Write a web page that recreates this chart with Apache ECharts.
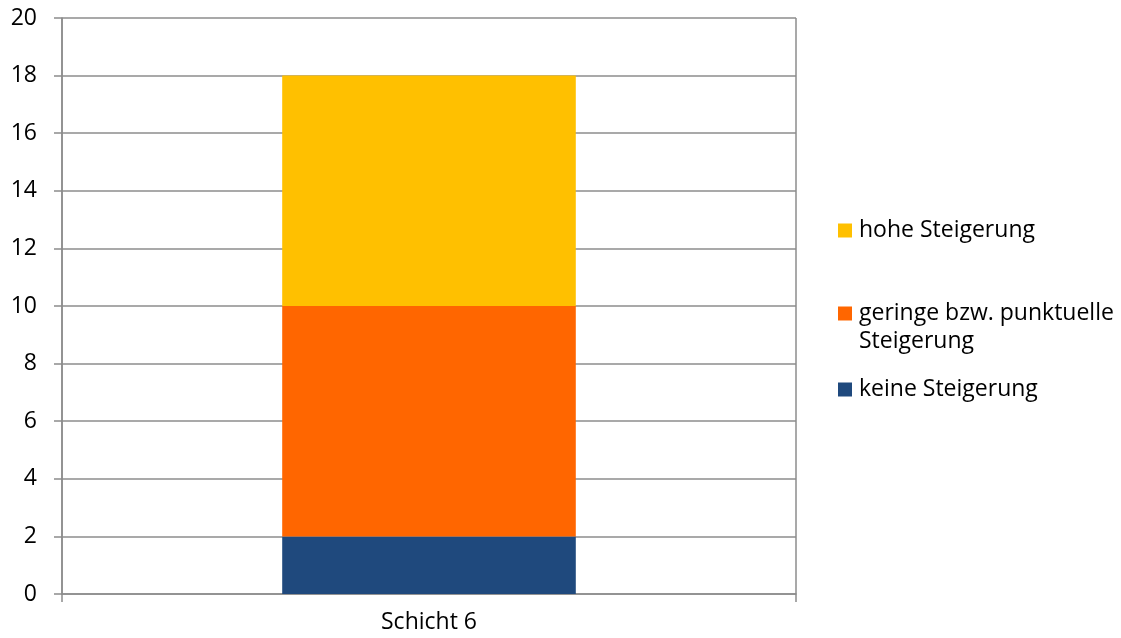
<!DOCTYPE html>
<html>
<head>
<meta charset="utf-8">
<script src="https://cdn.jsdelivr.net/npm/echarts@6/dist/echarts.min.js"></script>
<style>
  html, body { margin: 0; padding: 0; background: #ffffff; }
  #chart { width: 1121px; height: 638px; }
</style>
</head>
<body>
<div id="chart"></div>
<script>
// Category and stacked values per rating
const categories = ['Schicht 6'];
const keineSteigerung = [2];
const geringeSteigerung = [8];
const hoheSteigerung = [8];
const yTicks = { min: 0, max: 20, interval: 2 };

const FONT = 'Open Sans';
const FONT_SIZE = 23;
const GRID_COLOR = '#8c8c8c';
const LINE_WIDTH = 1.5;
const TEXT_COLOR = '#000000';

const chart = echarts.init(document.getElementById('chart'), null, { renderer: 'canvas' });

function legendAt(name, top, label) {
  return {
    show: true,
    orient: 'vertical',
    left: 838,
    top: top,
    padding: 0,
    itemWidth: 14,
    itemHeight: 14,
    itemGap: 0,
    icon: 'rect',
    data: [name],
    formatter: () => label,
    textStyle: { fontFamily: FONT, fontSize: FONT_SIZE, color: TEXT_COLOR, padding: [0, 0, 0, 2] },
    selectedMode: false
  };
}

const lineStyle = { color: GRID_COLOR, width: LINE_WIDTH };

const option = {
  animation: false,
  backgroundColor: '#ffffff',
  grid: { left: 62, right: 325, top: 18, bottom: 44, containLabel: false },
  xAxis: {
    type: 'category',
    data: categories,
    axisLine: { show: true, lineStyle: lineStyle },
    axisTick: { show: true, length: 8, lineStyle: lineStyle },
    splitLine: { show: true, lineStyle: lineStyle },
    axisLabel: { fontFamily: FONT, fontSize: FONT_SIZE, color: TEXT_COLOR, margin: 17 }
  },
  yAxis: {
    type: 'value',
    min: yTicks.min,
    max: yTicks.max,
    interval: yTicks.interval,
    axisLine: { show: true, lineStyle: lineStyle },
    axisTick: { show: true, length: 8, lineStyle: lineStyle },
    splitLine: { show: true, lineStyle: lineStyle },
    axisLabel: { fontFamily: FONT, fontSize: FONT_SIZE, color: TEXT_COLOR, margin: 25 }
  },
  legend: [
    legendAt('hohe Steigerung', 219, 'hohe Steigerung'),
    legendAt('geringe bzw. punktuelle Steigerung', 302, 'geringe bzw. punktuelle'),
    legendAt('keine Steigerung', 378, 'keine Steigerung')
  ],
  graphic: [{
    type: 'text',
    left: 859,
    top: 330,
    style: { text: 'Steigerung', fontFamily: FONT, fontSize: FONT_SIZE, fill: TEXT_COLOR }
  }],
  series: [
    {
      name: 'keine Steigerung', type: 'bar', stack: 'total', barWidth: '40%',
      itemStyle: { color: '#1f497d' }, data: keineSteigerung
    },
    {
      name: 'geringe bzw. punktuelle Steigerung', type: 'bar', stack: 'total', barWidth: '40%',
      itemStyle: { color: '#ff6600' }, data: geringeSteigerung
    },
    {
      name: 'hohe Steigerung', type: 'bar', stack: 'total', barWidth: '40%',
      itemStyle: { color: '#ffc000' }, data: hoheSteigerung
    }
  ]
};

chart.setOption(option);
</script>
</body>
</html>
